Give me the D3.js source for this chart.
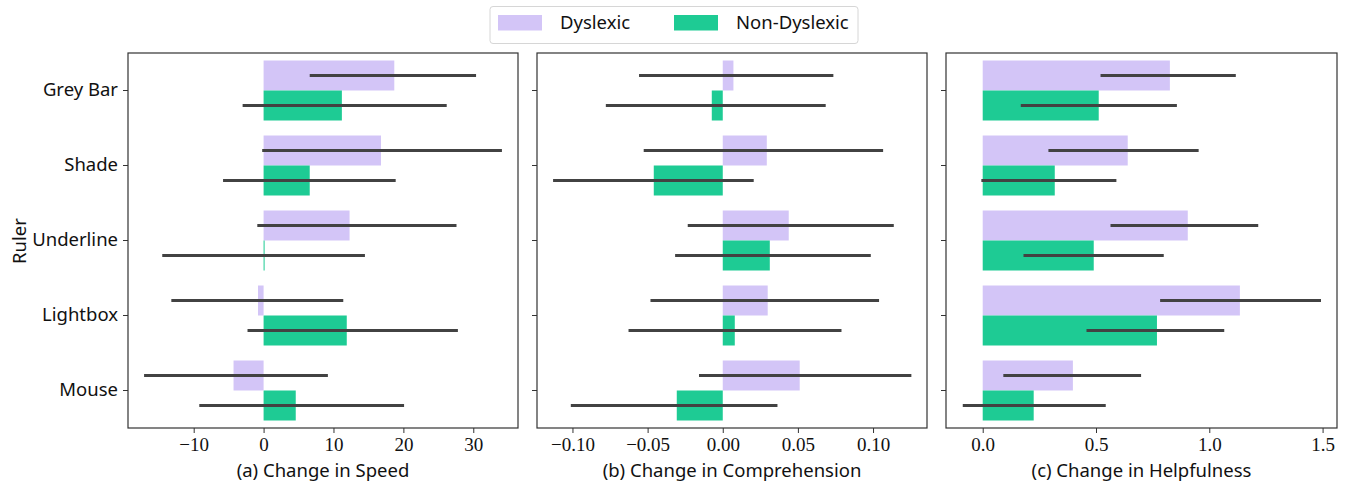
<!DOCTYPE html>
<html>
<head>
<meta charset="utf-8">
<style>
  body { margin: 0; background: #fff; }
  .cat { font: 18.5px "Noto Sans", sans-serif; fill: #111; }
  .num { font: 19px "Liberation Serif", serif; fill: #111; }
  .ttl { font: 18.5px "Noto Sans", sans-serif; fill: #111; }
</style>
</head>
<body>
<div id="chart"></div>
<script src="https://d3js.org/d3.v7.min.js"></script>
<script>
var rulers = ["Grey Bar", "Shade", "Underline", "Lightbox", "Mouse"];
var groups = ["Dyslexic", "Non-Dyslexic"];

// (a) speed
var speedDys = [18.7, 16.8, 12.3, -0.8, -4.3];
var speedDysLo = [6.6, -0.2, -0.9, -13.2, -17.1];
var speedDysHi = [30.4, 34.1, 27.6, 11.4, 9.2];
var speedNon = [11.2, 6.6, 0.1, 11.9, 4.6];
var speedNonLo = [-3.0, -5.8, -14.5, -2.3, -9.2];
var speedNonHi = [26.2, 18.9, 14.5, 27.8, 20.1];

// (b) comprehension
var compDys = [0.0071, 0.0293, 0.0439, 0.0299, 0.0512];
var compDysLo = [-0.0557, -0.0526, -0.0233, -0.0481, -0.0158];
var compDysHi = [0.0736, 0.1067, 0.1138, 0.104, 0.1255];
var compNon = [-0.0073, -0.0459, 0.0313, 0.008, -0.0306];
var compNonLo = [-0.0778, -0.1129, -0.0317, -0.0627, -0.1011];
var compNonHi = [0.0685, 0.0206, 0.0985, 0.079, 0.0364];

// (c) helpfulness
var helpDys = [0.826, 0.640, 0.905, 1.135, 0.398];
var helpDysLo = [0.520, 0.290, 0.564, 0.783, 0.091];
var helpDysHi = [1.117, 0.953, 1.216, 1.493, 0.699];
var helpNon = [0.512, 0.318, 0.490, 0.769, 0.225];
var helpNonLo = [0.168, -0.006, 0.180, 0.458, -0.088];
var helpNonHi = [0.857, 0.590, 0.799, 1.066, 0.543];

var speedTicks = [-10, 0, 10, 20, 30];
var compTicks = [-0.10, -0.05, 0.00, 0.05, 0.10];
var helpTicks = [0.0, 0.5, 1.0, 1.5];

var colors = {"Dyslexic": "#d3c5f7", "Non-Dyslexic": "#1ecb94"};

var W = 1348, H = 487;
var plotTop = 53, plotBottom = 428;

var svg = d3.select("#chart").append("svg")
  .attr("width", W).attr("height", H);

var y = d3.scaleBand().domain(rulers).range([plotTop, plotBottom])
  .paddingInner(0.2).paddingOuter(0.1);
var yHue = d3.scaleBand().domain(groups).range([0, y.bandwidth()]);

function rows(vD, lD, hD, vN, lN, hN) {
  var out = [];
  rulers.forEach(function(r, i) {
    out.push({r: r, g: "Dyslexic", v: vD[i], lo: lD[i], hi: hD[i]});
    out.push({r: r, g: "Non-Dyslexic", v: vN[i], lo: lN[i], hi: hN[i]});
  });
  return out;
}

var panels = [
  {x0: 128, x1: 518, dom: [-19.4, 36.4], ticks: speedTicks, fmt: d3.format(".0f"),
   title: "(a) Change in Speed",
   data: rows(speedDys, speedDysLo, speedDysHi, speedNon, speedNonLo, speedNonHi), labels: true},
  {x0: 537, x1: 927, dom: [-0.1236, 0.1359], ticks: compTicks, fmt: d3.format(".2f"),
   title: "(b) Change in Comprehension",
   data: rows(compDys, compDysLo, compDysHi, compNon, compNonLo, compNonHi), labels: false},
  {x0: 946, x1: 1337, dom: [-0.162, 1.5636], ticks: helpTicks, fmt: d3.format(".1f"),
   title: "(c) Change in Helpfulness",
   data: rows(helpDys, helpDysLo, helpDysHi, helpNon, helpNonLo, helpNonHi), labels: false}
];

panels.forEach(function(p) {
  var x = d3.scaleLinear().domain(p.dom).range([p.x0, p.x1]);
  var g = svg.append("g");

  g.selectAll("rect.bar").data(p.data).enter().append("rect")
    .attr("class", "bar")
    .attr("x", function(d) { return Math.min(x(0), x(d.v)); })
    .attr("width", function(d) { return Math.max(Math.abs(x(d.v) - x(0)), 1); })
    .attr("y", function(d) { return y(d.r) + yHue(d.g); })
    .attr("height", yHue.bandwidth())
    .attr("fill", function(d) { return colors[d.g]; });

  g.selectAll("line.err").data(p.data).enter().append("line")
    .attr("class", "err")
    .attr("x1", function(d) { return x(d.lo); })
    .attr("x2", function(d) { return x(d.hi); })
    .attr("y1", function(d) { return y(d.r) + yHue(d.g) + yHue.bandwidth() / 2; })
    .attr("y2", function(d) { return y(d.r) + yHue(d.g) + yHue.bandwidth() / 2; })
    .attr("stroke", "#424242").attr("stroke-width", 3.2);

  // frame
  g.append("rect").attr("x", p.x0).attr("y", plotTop)
    .attr("width", p.x1 - p.x0).attr("height", plotBottom - plotTop)
    .attr("fill", "none").attr("stroke", "#333").attr("stroke-width", 1.2);

  var xa = g.append("g").attr("transform", "translate(0," + plotBottom + ")")
    .call(d3.axisBottom(x).tickValues(p.ticks).tickFormat(function(v) {
      return p.fmt(v).replace("-", "\u2212");
    }).tickSize(5).tickPadding(5));
  xa.select(".domain").remove();
  xa.selectAll("line").attr("stroke", "#333");
  xa.selectAll("text").attr("class", "num").attr("fill", null);

  var ya = g.append("g").attr("transform", "translate(" + p.x0 + ",0)")
    .call(d3.axisLeft(y).tickSize(5).tickPadding(5).tickFormat(p.labels ? null : ""));
  ya.select(".domain").remove();
  ya.selectAll("line").attr("stroke", "#333");
  ya.selectAll("text").attr("class", "cat").attr("fill", null);

  g.append("text").attr("class", "ttl")
    .attr("x", (p.x0 + p.x1) / 2).attr("y", 477)
    .attr("text-anchor", "middle").text(p.title);
});

svg.append("text").attr("class", "ttl")
  .attr("transform", "translate(26,241) rotate(-90)")
  .attr("text-anchor", "middle").text("Ruler");

// legend
var lg = svg.append("g");
lg.append("rect").attr("x", 490).attr("y", 6.5).attr("width", 368).attr("height", 37)
  .attr("rx", 3).attr("fill", "#fff").attr("stroke", "#d6d6d6");
var lx = [498, 674];
groups.forEach(function(gr, i) {
  lg.append("rect").attr("x", lx[i]).attr("y", 15).attr("width", 44).attr("height", 15.5)
    .attr("fill", colors[gr]);
  lg.append("text").attr("class", "ttl").attr("x", lx[i] + 62).attr("y", 29).text(gr);
});
</script>
</body>
</html>
